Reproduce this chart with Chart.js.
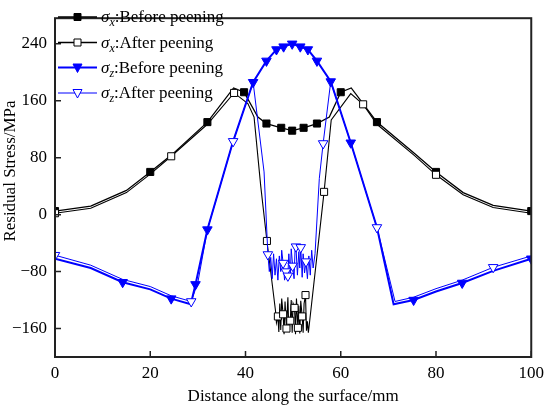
<!DOCTYPE html>
<html>
<head>
<meta charset="utf-8">
<script src="https://cdn.jsdelivr.net/npm/chart.js@4.4.1/dist/chart.umd.min.js"></script>
<style>
  html, body { margin: 0; padding: 0; background: #fff; }
  #wrap { width: 550px; height: 411px; }
</style>
</head>
<body>
<div id="wrap"><canvas id="myChart" width="550" height="411"></canvas></div>
<script>
// sigma x, before peening (filled squares)
const sxBeforeX = [0, 7.5, 15, 20, 24.5, 32, 37.5, 39.7, 42.6, 44.4, 47.5, 49.8, 52.2, 55, 57.6, 60, 62.2, 67.6, 75.5, 80, 85.7, 92, 100];
const sxBeforeY = [5, 12, 34, 60, 84, 130, 178, 172, 137, 128, 122, 118, 122, 128, 137, 172, 178, 130, 86, 60, 31, 13, 5];
const sxBeforeMarks = [0, 20, 32, 39.7, 44.4, 47.5, 49.8, 52.2, 55, 60, 67.6, 80, 100];

// sigma x, after peening (open squares)
const sxAfterX = [0, 7.5, 15, 20, 24.4, 32, 37.6, 40.5, 41.8, 43.2, 44.5,
  46.3, 46.5, 46.8, 47.0, 47.2, 47.4, 47.6, 47.9, 48.1, 48.3, 48.6, 48.9, 49.1, 49.4, 49.6, 49.8,
  50.0, 50.3, 50.5, 50.7, 51.0, 51.2, 51.4, 51.6, 51.9, 52.1, 52.3, 52.6, 52.8, 53.0, 53.2,
  56.5, 58, 62.1, 64.7, 67.6, 75.5, 80, 85.7, 92, 100];
const sxAfterY = [2, 9, 31, 57, 82, 127, 171, 156, 137, 40, -37,
  -135, -152, -143, -165, -125, -162, -118, -140, -168, -122, -160, -116, -165, -149, -120, -166,
  -125, -131, -168, -118, -159, -128, -167, -121, -143, -166, -125, -113, -163, -150, -166,
  32, 133, 170, 155, 127, 83, 56, 28, 10, 2];
const sxAfterMarks = [0, 24.4, 37.6, 44.5, 46.8, 47.9, 48.6, 49.4, 50.3, 51.0, 51.9, 52.6, 56.5, 64.7, 80];

// sigma z, before peening (filled triangles)
const szBeforeX = [0, 7.5, 14.2, 20, 24.4, 28.5, 29.5, 32, 37.4, 41.6, 44.4, 46.5, 48, 49.8, 51.5, 53.1, 55, 57.9, 62.1, 67.6, 71.1, 75.3, 80, 85.5, 92, 100];
const szBeforeY = [-62, -75, -95, -105, -118, -126, -98, -21, 103, 186, 216, 232, 236, 240, 236, 232, 216, 187, 101, -18, -126, -120, -108, -96, -79, -62];
const szBeforeMarks = [14.2, 24.4, 29.5, 32, 41.6, 44.4, 46.5, 48, 49.8, 51.5, 53.1, 55, 57.9, 62.1, 75.3, 85.5, 100];

// sigma z, after peening (open triangles)
const szAfterX = [0, 7.5, 14.2, 20, 24.4, 28.6, 30, 32, 37.4, 41.6, 43.9,
  44.7, 45.0, 45.3, 45.6, 45.9, 46.2, 46.5, 46.8, 47.1, 47.4, 47.6, 47.9, 48.2, 48.5, 48.9, 49.1,
  49.4, 49.6, 49.9, 50.2, 50.4, 50.6, 50.9, 51.2, 51.4, 51.6, 51.9, 52.1, 52.4, 52.7, 53.0, 53.3,
  53.6, 53.9, 54.2, 54.6, 55.5, 56.3, 57.9, 62.1, 67.6, 71.4, 75.3, 80, 85.5, 92, 100];
const szAfterY = [-57, -71, -91, -101, -114, -122, -95, -21, 103, 186, 60,
  -56, -80, -60, -90, -55, -85, -62, -92, -58, -80, -50, -68, -92, -80, -86, -55,
  -88, -48, -72, -90, -50, -45, -85, -52, -75, -46, -88, -55, -82, -66, -90, -58,
  -85, -50, -75, -55, 51, 100, 187, 101, -18, -122, -116, -104, -92, -74, -58];
const szAfterMarks = [0, 28.6, 37.4, 44.7, 47.9, 48.5, 48.9, 49.9, 50.6, 51.6, 52.7, 56.3, 67.6, 92];

const xTicks = [0, 20, 40, 60, 80, 100];
const yTicks = [-160, -80, 0, 80, 160, 240];

const serif = "'Liberation Serif', 'Times New Roman', serif";
const blue = '#0000ff';

function pts(xs, ys) {
  return xs.map((x, i) => ({ x: x, y: ys[i] }));
}
function radii(xs, marks, r) {
  return xs.map(x => marks.includes(x) ? r : 0);
}

const legendItems = [
  { sub: 'x', text: ':Before peening', color: '#000', width: 1.3, style: 'rect', fill: '#000' },
  { sub: 'x', text: ':After peening', color: '#000', width: 1.3, style: 'rect', fill: '#fff' },
  { sub: 'z', text: ':Before peening', color: blue, width: 2, style: 'tri', fill: blue },
  { sub: 'z', text: ':After peening', color: blue, width: 1, style: 'tri', fill: '#fff' },
];

function marker(ctx, style, x, y, fill, color) {
  ctx.save();
  ctx.fillStyle = fill;
  ctx.strokeStyle = color;
  ctx.lineWidth = 1;
  ctx.beginPath();
  if (style === 'rect') {
    ctx.rect(x - 3.5, y - 3.5, 7, 7);
  } else {
    ctx.moveTo(x - 4.5, y - 3.5);
    ctx.lineTo(x + 4.5, y - 3.5);
    ctx.lineTo(x, y + 5);
    ctx.closePath();
  }
  ctx.fill();
  ctx.stroke();
  ctx.restore();
}

const frame = {
  id: 'frame',
  afterDraw(chart) {
    const ctx = chart.ctx;
    const a = chart.chartArea;
    const xs = chart.scales.x, ys = chart.scales.y;
    ctx.save();
    ctx.strokeStyle = '#222';
    ctx.lineWidth = 2;
    ctx.strokeRect(a.left, a.top, a.right - a.left, a.bottom - a.top);

    // inward ticks
    ctx.lineWidth = 1.5;
    ctx.beginPath();
    xTicks.forEach(v => {
      const px = xs.getPixelForValue(v);
      ctx.moveTo(px, a.bottom);
      ctx.lineTo(px, a.bottom - 6);
    });
    yTicks.forEach(v => {
      const py = ys.getPixelForValue(v);
      ctx.moveTo(a.left, py);
      ctx.lineTo(a.left + 6, py);
    });
    ctx.stroke();

    // legend
    const ly = [17, 42.5, 67.5, 93];
    legendItems.forEach((it, i) => {
      const y = ly[i];
      ctx.strokeStyle = it.color;
      ctx.lineWidth = it.width;
      ctx.beginPath();
      ctx.moveTo(58, y);
      ctx.lineTo(97, y);
      ctx.stroke();
      marker(ctx, it.style, 77.5, y, it.fill, it.color);
      ctx.fillStyle = '#000';
      ctx.textBaseline = 'alphabetic';
      ctx.textAlign = 'left';
      ctx.font = 'italic 17px ' + serif;
      let x = 101;
      ctx.fillText('σ', x, y + 5);
      x += ctx.measureText('σ').width;
      ctx.font = 'italic 12px ' + serif;
      ctx.fillText(it.sub, x, y + 9);
      x += ctx.measureText(it.sub).width;
      ctx.font = '17px ' + serif;
      ctx.fillText(it.text, x, y + 5);
    });

    // axis titles
    ctx.fillStyle = '#000';
    ctx.font = '17px ' + serif;
    ctx.textAlign = 'center';
    ctx.textBaseline = 'middle';
    ctx.fillText('Distance along the surface/mm', (a.left + a.right) / 2, 397);
    ctx.translate(11, 171);
    ctx.rotate(-Math.PI / 2);
    ctx.fillText('Residual Stress/MPa', 0, 0);
    ctx.restore();
  }
};

new Chart(document.getElementById('myChart'), {
  type: 'line',
  data: {
    datasets: [
      {
        label: 'σx:Before peening',
        data: pts(sxBeforeX, sxBeforeY),
        borderColor: '#000',
        borderWidth: 1.3,
        pointStyle: 'rect',
        pointRadius: radii(sxBeforeX, sxBeforeMarks, 5),
        pointBackgroundColor: '#000',
        pointBorderColor: '#000',
        pointBorderWidth: 1,
        order: 3,
      },
      {
        label: 'σx:After peening',
        data: pts(sxAfterX, sxAfterY),
        borderColor: '#000',
        borderWidth: 1.1,
        pointStyle: 'rect',
        pointRadius: radii(sxAfterX, sxAfterMarks, 5),
        pointBackgroundColor: '#fff',
        pointBorderColor: '#000',
        pointBorderWidth: 1,
        order: 2,
      },
      {
        label: 'σz:Before peening',
        data: pts(szBeforeX, szBeforeY),
        borderColor: blue,
        borderWidth: 2,
        pointStyle: 'triangle',
        pointRotation: 180,
        pointRadius: radii(szBeforeX, szBeforeMarks, 5.5),
        pointBackgroundColor: blue,
        pointBorderColor: blue,
        pointBorderWidth: 1,
        order: 1,
      },
      {
        label: 'σz:After peening',
        data: pts(szAfterX, szAfterY),
        borderColor: blue,
        borderWidth: 1,
        pointStyle: 'triangle',
        pointRotation: 180,
        pointRadius: radii(szAfterX, szAfterMarks, 5.5),
        pointBackgroundColor: '#fff',
        pointBorderColor: blue,
        pointBorderWidth: 1,
        order: 0,
      },
    ]
  },
  options: {
    responsive: false,
    animation: false,
    events: [],
    layout: { padding: { top: 4, right: 16, left: 0, bottom: 0 } },
    elements: { line: { tension: 0 } },
    plugins: {
      legend: { display: false },
      tooltip: { enabled: false },
    },
    scales: {
      x: {
        type: 'linear',
        min: 0,
        max: 100,
        grid: { display: false, drawTicks: false },
        border: { display: false },
        ticks: { stepSize: 20, padding: 6, color: '#000', font: { family: serif, size: 17 } },
        afterBuildTicks: (s) => { s.ticks = xTicks.map(v => ({ value: v })); },
        afterFit: (s) => { s.height = 54; },
      },
      y: {
        type: 'linear',
        min: -200,
        max: 276,
        grid: { display: false, drawTicks: false },
        border: { display: false },
        ticks: {
          padding: 8,
          color: '#000',
          font: { family: serif, size: 17 },
          callback: (v) => v < 0 ? '\u2212' + Math.abs(v) : String(v),
        },
        afterBuildTicks: (s) => { s.ticks = yTicks.map(v => ({ value: v })); },
        afterFit: (s) => { s.width = 55; },
      }
    }
  },
  plugins: [frame]
});
</script>
</body>
</html>
